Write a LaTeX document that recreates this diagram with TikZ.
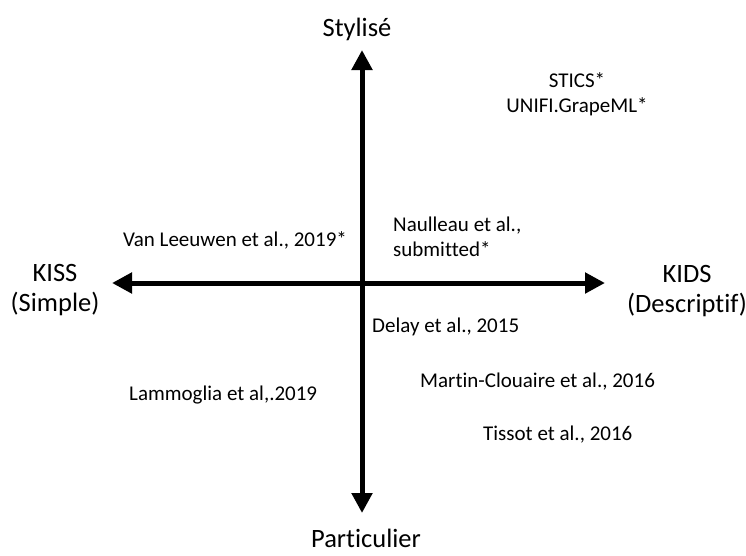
\documentclass[tikz,border=0pt]{standalone}
\usepackage{fontspec}
\setmainfont[Ligatures=NoCommon]{Carlito}
\usetikzlibrary{arrows.meta}
\tikzset{
  axis/.style={line width=5pt, {Triangle[length=20pt,width=20pt]}-{Triangle[length=20pt,width=20pt]}},
  biglabel/.style={inner sep=0pt, font=\fontsize{26.5}{30}\selectfont, align=center},
  smalllabel/.style={inner sep=0pt, font=\fontsize{21}{25}\selectfont},
}
\begin{document}
\begin{tikzpicture}[x=1pt,y=-1pt]
\useasboundingbox[fill=white] (0,0) rectangle (746,555);
\coordinate (top) at (362,50);
\coordinate (bottom) at (362,513);
\coordinate (left) at (112,283);
\coordinate (right) at (605,283);
\draw[axis] (bottom) -- (top);
\draw[axis] (left) -- (right);
\node[biglabel, anchor=base] (styl) at (357,36) {Stylisé};
\node[biglabel, anchor=base] (part) at (366,547) {Particulier};
\node[biglabel, anchor=north] (kiss) at (55,264) {KISS\\(Simple)};
\node[biglabel, anchor=north] (kids) at (687,265) {KIDS\\(Descriptif)};
\node[smalllabel, anchor=north, align=center] (stics) at (577,72) {STICS*\\UNIFI.GrapeML*};
\node[smalllabel, anchor=base] (vanl) at (235,246) {Van Leeuwen et al., 2019*};
\node[smalllabel, anchor=north west, align=left] (naul) at (393,217) {Naulleau et al.,\\submitted*};
\node[smalllabel, anchor=base west] (delay) at (372,332) {Delay et al., 2015};
\node[smalllabel, anchor=base west] (martin) at (420,387) {Martin-Clouaire et al., 2016};
\node[smalllabel, anchor=base west] (tissot) at (483,440) {Tissot et al., 2016};
\node[smalllabel, anchor=base west] (lamm) at (129,400) {Lammoglia et al,.2019};
\end{tikzpicture}
\end{document}
